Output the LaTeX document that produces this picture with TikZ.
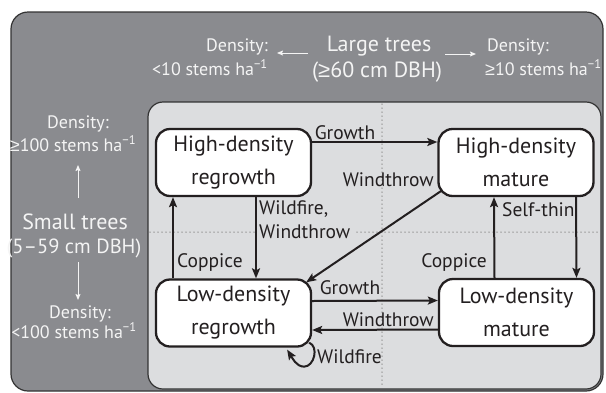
\documentclass[tikz,border=0pt]{standalone}
\usepackage{fontspec}
\setmainfont{PT Sans}
\newfontfamily\symf{Liberation Sans}
\newcommand{\gesign}{{\symf ≥}}
\newcommand{\invha}{ha\textsuperscript{−1}}
\usetikzlibrary{arrows.meta}
\definecolor{outerg}{HTML}{8A8B8F}
\definecolor{innerg}{HTML}{DCDDDF}
\definecolor{dotg}{HTML}{8C8C8C}
\definecolor{ink}{HTML}{231F20}
\definecolor{paleink}{HTML}{F4F4F4}
\tikzset{
  statebox/.style={draw=ink, line width=2.3pt, fill=white, rounded corners=14pt,
    minimum width=155pt, minimum height=67pt, align=center, inner sep=0pt,
    text=ink, font=\fontsize{22}{33}\selectfont},
  flow/.style={draw=ink, line width=2pt, -{Stealth[length=10pt,width=8pt,inset=2pt]}},
  lbl/.style={text=ink, font=\fontsize{19.5}{24}\selectfont, inner sep=0pt},
  outtxt/.style={text=paleink, font=\fontsize{18}{24}\selectfont, inner sep=0pt},
  bigtxt/.style={text=paleink, font=\fontsize{22}{26}\selectfont, inner sep=0pt},
  whitearrow/.style={draw=paleink, line width=1pt, -{Stealth[length=6pt,width=5pt,inset=1pt]}},
  gridline/.style={draw=dotg, line width=1.5pt, dash pattern=on 0pt off 4pt, line cap=round}
}
\begin{document}
\begin{tikzpicture}[x=1pt,y=-1pt]
\useasboundingbox (0,0) rectangle (606,392);
% panels
\draw[fill=outerg, draw=black!80, line width=1.2pt, rounded corners=17pt] (11,12) rectangle (603,391);
\draw[fill=innerg, draw=black!80, line width=1.2pt, rounded corners=15pt] (148,102) rectangle (601,389);
% dotted grid
\coordinate (vt) at (382,104);
\coordinate (vb) at (382,387);
\coordinate (hl) at (150,232);
\coordinate (hm) at (254,232);
\coordinate (hn) at (357,232);
\coordinate (hr) at (599,232);
\draw[gridline] (vt) -- (vb);
\draw[gridline] (hl) -- (hm);
\draw[gridline] (hn) -- (hr);
% top texts
\node[bigtxt, anchor=base] (large) at (379,51) {Large trees};
\node[bigtxt, anchor=base] (largedbh) at (377,77) {(\gesign60 cm DBH)};
\node[outtxt, anchor=base east] (tl1) at (268,51) {Density:};
\node[outtxt, anchor=base east] (tl2) at (268,75) {<10 stems \invha};
\node[outtxt, anchor=base west] (tr1) at (487,51) {Density:};
\node[outtxt, anchor=base west] (tr2) at (485,75) {\gesign10 stems \invha};
\coordinate (al0) at (308,53);
\coordinate (al1) at (277,53);
\coordinate (ar0) at (445,54);
\coordinate (ar1) at (476,54);
\draw[whitearrow] (al0) -- (al1);
\draw[whitearrow] (ar0) -- (ar1);
% left texts
\node[outtxt, anchor=base] (ll1) at (78,128) {Density:};
\node[outtxt, anchor=base] (ll2) at (73,151) {\gesign100 stems \invha};
\node[bigtxt, anchor=base] (small) at (75,229) {Small trees};
\node[bigtxt, anchor=base, font=\fontsize{20.5}{26}\selectfont] (smalldbh) at (74,253) {(5–59 cm DBH)};
\node[outtxt, anchor=base] (ll3) at (80,318) {Density:};
\node[outtxt, anchor=base] (ll4) at (74,338) {<100 stems \invha};
\coordinate (au0) at (78,198);
\coordinate (au1) at (78,165);
\coordinate (ad0) at (78,262);
\coordinate (ad1) at (78,300);
\draw[whitearrow] (au0) -- (au1);
\draw[whitearrow] (ad0) -- (ad1);
% state boxes
\node[statebox] (HDR) at (233.5,162.5) {High-density\\regrowth};
\node[statebox] (HDM) at (516,162.5) {High-density\\mature};
\node[statebox] (LDR) at (233.5,313) {Low-density\\regrowth};
\node[statebox] (LDM) at (516.5,312.5) {Low-density\\mature};
% flows
\draw[flow] ([yshift=20.5pt]HDR.east) -- ([yshift=20.5pt]HDM.west);
\draw[flow] ([xshift=5pt,yshift=7pt]HDM.south west) -- ([xshift=-6pt,yshift=-4pt]LDR.north east);
\draw[flow] ([xshift=22.5pt]HDR.south) -- ([xshift=22.5pt]LDR.north);
\draw[flow] ([xshift=-60.5pt]LDR.north) -- ([xshift=-60.5pt]HDR.south);
\draw[flow] ([xshift=60pt]HDM.south) -- ([xshift=60pt]LDM.north);
\draw[flow] ([xshift=-22pt]LDM.north) -- ([xshift=-22pt]HDM.south);
\draw[flow] ([yshift=12pt]LDR.east) -- ([yshift=12pt]LDM.west);
\draw[flow] ([yshift=-17pt]LDM.west) -- ([yshift=-17pt]LDR.east);
\draw[flow] ([xshift=-3pt,yshift=5pt]LDR.south east) .. controls +(10,4) and +(10,0) .. ++(-5,24) .. controls +(-8,0) and +(5,8) .. ([xshift=-25pt,yshift=-2pt]LDR.south east);
% labels
\node[lbl, anchor=center] (g1) at (345,133) {Growth};
\node[lbl, anchor=east] (w1) at (434,180) {Windthrow};
\node[lbl, anchor=west, align=left] (ww) at (259,220) {Wildfire,\\Windthrow};
\node[lbl, anchor=west] (c1) at (177,263) {Coppice};
\node[lbl, anchor=west] (st) at (502,210) {Self-thin};
\node[lbl, anchor=east] (c2) at (487,263) {Coppice};
\node[lbl, anchor=center] (g2) at (350,288) {Growth};
\node[lbl, anchor=east] (w2) at (434,320) {Windthrow};
\node[lbl, anchor=west] (wf) at (317,357) {Wildfire};
\end{tikzpicture}
\end{document}
